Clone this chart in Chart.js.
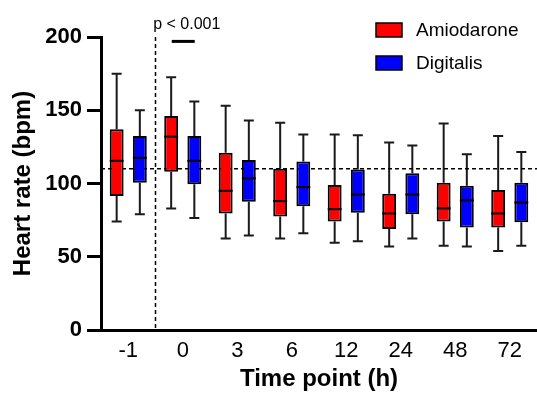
<!DOCTYPE html>
<html>
<head>
<meta charset="utf-8">
<script src="https://cdn.jsdelivr.net/npm/chart.js@4"></script>
<style>
    body { margin: 0; background: #fff; }
    #wrap { width: 537px; height: 394px; }
</style>
</head>
<body>
<div id="wrap"><canvas id="hrChart" width="537" height="394"></canvas></div>
<script>
// Heart rate box plots per time point

var timePoints = ['-1', '0', '3', '6', '12', '24', '48', '72'];

var amioMin = [74, 83, 62.5, 62.5, 59.5, 57, 57.5, 54];
var amioQ1 = [91.5, 108, 79.5, 77.5, 74, 69, 74, 70];
var amioMedian = [115.5, 132, 95, 88, 82.5, 79.5, 83, 79.5];
var amioQ3 = [137, 146, 121, 110, 99, 93, 100.5, 95.5];
var amioMax = [175, 172.5, 153, 141.5, 133.5, 128, 141, 132.5];

var digiMin = [79, 76.5, 64.5, 66, 60.5, 62.5, 57, 57.5];
var digiQ1 = [100.5, 99.5, 87.5, 84.5, 80, 79, 70, 73.5];
var digiMedian = [117.5, 115.5, 103.5, 97.5, 92.5, 92.5, 88.5, 87];
var digiQ3 = [132.5, 132.5, 116, 115, 109.5, 107, 98.5, 100.5];
var digiMax = [150, 156, 143, 133.5, 133, 126, 120, 121.5];

var yTicks = [0, 50, 100, 150, 200];
var referenceRate = 110;
var pValueText = 'p < 0.001';
var pValueLevel = 197;

var FONT = "'Liberation Sans', Arial, sans-serif";

function boxRanges(q1, q3) {
    var out = [];
    for (var i = 0; i < q1.length; i++) out.push([q1[i], q3[i]]);
    return out;
}

var stats = [
    { min: amioMin, med: amioMedian, max: amioMax },
    { min: digiMin, med: digiMedian, max: digiMax }
];

// whiskers, medians, reference lines, legend and p-value
var boxPlotExtras = {
    id: 'boxPlotExtras',
    beforeDatasetsDraw: function (chart) {
        var ctx = chart.ctx;
        var y = chart.scales.y;
        var x = chart.scales.x;
        var area = chart.chartArea;
        ctx.save();
        // whiskers
        ctx.strokeStyle = '#1a1a1a';
        ctx.lineWidth = 2;
        stats.forEach(function (s, di) {
            var meta = chart.getDatasetMeta(di);
            var ds = chart.data.datasets[di];
            meta.data.forEach(function (bar, i) {
                var cap = bar.width * 0.36;
                var top = ds.data[i][1], bottom = ds.data[i][0];
                ctx.beginPath();
                ctx.moveTo(bar.x, y.getPixelForValue(top));
                ctx.lineTo(bar.x, y.getPixelForValue(s.max[i]));
                ctx.moveTo(bar.x - cap, y.getPixelForValue(s.max[i]));
                ctx.lineTo(bar.x + cap, y.getPixelForValue(s.max[i]));
                ctx.moveTo(bar.x, y.getPixelForValue(bottom));
                ctx.lineTo(bar.x, y.getPixelForValue(s.min[i]));
                ctx.moveTo(bar.x - cap, y.getPixelForValue(s.min[i]));
                ctx.lineTo(bar.x + cap, y.getPixelForValue(s.min[i]));
                ctx.stroke();
            });
        });
        // dashed reference lines
        ctx.strokeStyle = '#000';
        ctx.lineWidth = 1.5;
        ctx.setLineDash([4, 3]);
        var ry = y.getPixelForValue(referenceRate);
        ctx.beginPath();
        ctx.moveTo(area.left, ry);
        ctx.lineTo(area.right, ry);
        ctx.stroke();
        var vx = (x.getPixelForValue(0) + x.getPixelForValue(1)) / 2;
        ctx.beginPath();
        ctx.moveTo(vx, area.top);
        ctx.lineTo(vx, area.bottom);
        ctx.stroke();
        ctx.restore();
    },
    afterDatasetsDraw: function (chart) {
        var ctx = chart.ctx;
        var y = chart.scales.y;
        var x = chart.scales.x;
        ctx.save();
        // medians
        ctx.strokeStyle = '#000';
        ctx.lineWidth = 2;
        stats.forEach(function (s, di) {
            var meta = chart.getDatasetMeta(di);
            meta.data.forEach(function (bar, i) {
                var my = y.getPixelForValue(s.med[i]);
                ctx.beginPath();
                ctx.moveTo(bar.x - bar.width / 2, my);
                ctx.lineTo(bar.x + bar.width / 2, my);
                ctx.stroke();
            });
        });
        // significance marker over time point 0
        var cx = x.getPixelForValue(1);
        var sy = y.getPixelForValue(pValueLevel);
        ctx.lineWidth = 3;
        ctx.beginPath();
        ctx.moveTo(cx - 11, sy);
        ctx.lineTo(cx + 12, sy);
        ctx.stroke();
        ctx.fillStyle = '#000';
        ctx.font = '16px ' + FONT;
        ctx.textAlign = 'center';
        ctx.textBaseline = 'alphabetic';
        ctx.fillText(pValueText, cx + 4, sy - 12);

        // legend
        var area = chart.chartArea;
        var lx = area.right - 161;
        chart.data.datasets.forEach(function (ds, di) {
            var ly = area.top - 7 + di * 33;
            ctx.fillStyle = ds.backgroundColor;
            ctx.fillRect(lx, ly - 7, 26, 14);
            ctx.lineWidth = 1.5;
            ctx.strokeStyle = '#000';
            ctx.strokeRect(lx, ly - 7, 26, 14);
            ctx.fillStyle = '#000';
            ctx.font = '19px ' + FONT;
            ctx.textAlign = 'left';
            ctx.textBaseline = 'middle';
            ctx.fillText(ds.label, lx + 40, ly + 1);
        });
        ctx.restore();
    }
};

var canvas = document.getElementById('hrChart');
new Chart(canvas.getContext('2d'), {
    type: 'bar',
    data: {
        labels: timePoints,
        datasets: [
            {
                label: 'Amiodarone',
                data: boxRanges(amioQ1, amioQ3),
                backgroundColor: '#ff0000',
                borderColor: '#000',
                borderWidth: 2,
                borderSkipped: false
            },
            {
                label: 'Digitalis',
                data: boxRanges(digiQ1, digiQ3),
                backgroundColor: '#0000ff',
                borderColor: '#000',
                borderWidth: 2,
                borderSkipped: false
            }
        ]
    },
    options: {
        responsive: false,
        animation: false,
        categoryPercentage: 0.85,
        barPercentage: 0.6,
        layout: { padding: { top: 37, left: 0, right: 0, bottom: 0 } },
        plugins: {
            legend: { display: false },
            tooltip: { enabled: false }
        },
        scales: {
            x: {
                grid: { display: false, drawTicks: false },
                border: { display: true, width: 3, color: '#000' },
                ticks: { color: '#000', padding: 8, font: { family: FONT, size: 22 } },
                title: {
                    display: true,
                    text: 'Time point (h)',
                    color: '#000',
                    padding: { top: 0, bottom: 0 },
                    font: { family: FONT, size: 24, weight: 'bold' }
                },
                afterFit: function (scale) { scale.height = 64; }
            },
            y: {
                min: 0,
                max: 200,
                afterBuildTicks: function (scale) {
                    scale.ticks = yTicks.map(function (v) { return { value: v }; });
                },
                grid: { drawOnChartArea: false, tickLength: 14, tickWidth: 3, color: '#000' },
                border: { display: true, width: 3, color: '#000' },
                ticks: { color: '#000', padding: 5, font: { family: FONT, size: 22, weight: 'bold' } },
                title: {
                    display: true,
                    text: 'Heart rate (bpm)',
                    color: '#000',
                    padding: { top: 9, bottom: 0 },
                    font: { family: FONT, size: 24, weight: 'bold' }
                },
                afterFit: function (scale) { scale.width = 101; }
            }
        }
    },
    plugins: [boxPlotExtras]
});
</script>
</body>
</html>
